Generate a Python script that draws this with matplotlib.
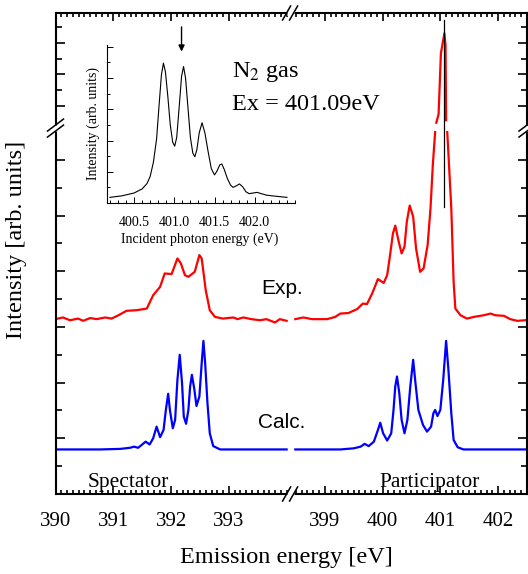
import numpy as np
import matplotlib.pyplot as plt
from matplotlib.ticker import FixedLocator, NullFormatter

plt.rcParams['font.family'] = ['Liberation Serif', 'DejaVu Serif']
plt.rcParams['mathtext.fontset'] = 'stix'

# Emission spectra, spectator region (left) and participator region (right)
spec_exp_x = [390.0, 390.13, 390.25, 390.39, 390.48, 390.60, 390.71, 390.86, 390.97, 391.09,
              391.23, 391.40, 391.58, 391.69, 391.81, 391.89, 392.01, 392.11, 392.17, 392.24,
              392.30, 392.41, 392.49, 392.53, 392.60, 392.67, 392.76, 392.90, 393.08, 393.15,
              393.25, 393.39, 393.54, 393.65, 393.80, 393.88, 394.00]
spec_exp_y = [3.14, 3.17, 3.12, 3.15, 3.11, 3.16, 3.14, 3.17, 3.15, 3.21,
              3.29, 3.30, 3.33, 3.57, 3.72, 3.96, 3.95, 4.23, 4.14, 3.93,
              3.90, 3.99, 4.29, 4.23, 3.66, 3.30, 3.18, 3.15, 3.17, 3.14,
              3.17, 3.14, 3.12, 3.14, 3.08, 3.14, 3.11]

part_exp_x = [398.49, 398.63, 398.78, 399.04, 399.18, 399.27, 399.41, 399.56, 399.66, 399.73,
              399.82, 399.92, 400.02, 400.08, 400.13, 400.18, 400.22, 400.28, 400.33, 400.38,
              400.42, 400.47, 400.53, 400.58, 400.65, 400.71, 400.78, 400.83, 400.87, 400.91,
              400.93, 400.97, 401.01, 401.04, 401.07, 401.09, 401.10, 401.12, 401.19, 401.23,
              401.26, 401.35, 401.46, 401.58, 401.75, 401.87, 401.95, 402.10, 402.21, 402.33,
              402.47]
part_exp_y = [3.14, 3.17, 3.14, 3.14, 3.18, 3.24, 3.25, 3.32, 3.42, 3.41,
              3.60, 3.86, 3.79, 3.93, 4.29, 4.68, 4.82, 4.53, 4.32, 4.44,
              4.89, 5.18, 4.98, 4.41, 3.99, 4.05, 4.47, 5.13, 5.91, 6.50,
              7.47, 7.74, 9.67, 9.98, 10.30, 9.93, 7.55, 6.50, 5.13, 3.81,
              3.33, 3.21, 3.15, 3.18, 3.21, 3.24, 3.21, 3.20, 3.14, 3.11,
              3.12]

spec_calc_x = [390.0, 390.77, 391.12, 391.29, 391.36, 391.43, 391.49, 391.56, 391.63, 391.69,
               391.75, 391.81, 391.87, 391.91, 391.95, 391.98, 392.03, 392.07, 392.11, 392.15,
               392.19, 392.22, 392.26, 392.30, 392.33, 392.36, 392.40, 392.44, 392.49, 392.53,
               392.56, 392.59, 392.63, 392.67, 392.73, 392.85, 394.00]
spec_calc_y = [0.80, 0.80, 0.81, 0.83, 0.85, 0.83, 0.88, 0.94, 0.89, 1.00,
               1.21, 1.02, 1.15, 1.51, 1.80, 1.51, 1.18, 1.33, 2.05, 2.50,
               1.99, 1.39, 1.26, 1.51, 1.93, 2.14, 1.90, 1.58, 1.75, 2.35,
               2.75, 2.35, 1.63, 1.09, 0.86, 0.80, 0.80]

part_calc_x = [398.49, 399.27, 399.50, 399.62, 399.69, 399.76, 399.85, 399.92, 399.96, 400.01,
               400.08, 400.15, 400.19, 400.22, 400.25, 400.29, 400.33, 400.38, 400.43, 400.48,
               400.53, 400.57, 400.62, 400.70, 400.77, 400.84, 400.88, 400.91, 400.95, 401.00,
               401.05, 401.10, 401.14, 401.19, 401.23, 401.30, 401.40, 402.50]
part_calc_y = [0.80, 0.80, 0.82, 0.85, 0.90, 0.86, 0.94, 1.15, 1.28, 1.09,
               0.96, 1.09, 1.51, 1.93, 2.11, 1.81, 1.33, 1.09, 1.33, 1.93,
               2.41, 1.99, 1.51, 1.24, 1.12, 1.21, 1.45, 1.51, 1.40, 1.51,
               2.05, 2.75, 2.23, 1.45, 0.97, 0.84, 0.80, 0.80]

# excitation energy marker
ex_energy = 401.06
ex_line_y = (5.16, 10.72)

# absorption spectrum for the inset
abs_x = [400.20, 400.35, 400.50, 400.60, 400.66, 400.70, 400.74, 400.78, 400.81, 400.84,
         400.865, 400.89, 400.92, 400.95, 400.98, 401.005, 401.03, 401.06, 401.09, 401.115,
         401.14, 401.17, 401.20, 401.23, 401.255, 401.28, 401.31, 401.345, 401.38, 401.42,
         401.46, 401.50, 401.53, 401.565, 401.59, 401.62, 401.66, 401.70, 401.73, 401.77,
         401.81, 401.85, 401.89, 401.93, 401.98, 402.03, 402.08, 402.15, 402.25, 402.40]
abs_y = [0.18, 0.23, 0.32, 0.45, 0.62, 0.85, 1.30, 2.05, 3.10, 4.10,
         4.48, 4.20, 3.40, 2.50, 1.95, 1.82, 2.10, 3.05, 4.05, 4.37,
         4.00, 3.05, 2.10, 1.60, 1.48, 1.70, 2.25, 2.57, 2.25, 1.65,
         1.10, 0.90, 1.02, 1.22, 1.25, 1.08, 0.78, 0.57, 0.50, 0.55,
         0.61, 0.52, 0.36, 0.30, 0.32, 0.34, 0.30, 0.25, 0.22, 0.18]
abs_marker = 401.09

x_major = [390, 391, 392, 393, 399, 400, 401, 402]

# broken axes: gap in energy and a compressed upper intensity range
X_LO, X_HI = 394.06, 398.40
Y_LO, Y_HI, Y_SQ = 6.571, 7.30, 0.567
Y_TOP = 10.945


def x_fwd(x):
    x = np.array(x, float)
    out = x.copy()
    out[x >= X_HI] -= X_HI - X_LO
    out[(x > X_LO) & (x < X_HI)] = X_LO
    return out


def x_inv(u):
    u = np.array(u, float)
    out = u.copy()
    out[u > X_LO] += X_HI - X_LO
    return out


def y_fwd(y):
    y = np.array(y, float)
    out = y.copy()
    hi = y >= Y_HI
    out[hi] = Y_LO + (y[hi] - Y_HI) * Y_SQ
    out[(y > Y_LO) & (y < Y_HI)] = Y_LO
    return out


def y_inv(v):
    v = np.array(v, float)
    out = v.copy()
    hi = v > Y_LO
    out[hi] = Y_HI + (v[hi] - Y_LO) / Y_SQ
    return out


def split_at_cut(x, y):
    xs, ys = [x[0]], [y[0]]
    for i in range(1, len(x)):
        if (y[i - 1] < Y_LO) != (y[i] < Y_LO):
            xs.append(np.nan)
            ys.append(np.nan)
        xs.append(x[i])
        ys.append(y[i])
    return xs, ys


W, H = 528, 574
fig = plt.figure(figsize=(W / 100, H / 100), dpi=100)


def fxy(px, py):
    return px / W, 1 - py / H


ax = fig.add_axes([55.5 / W, 1 - 494 / H, 471.5 / W, 481 / H])
ax.set_xscale('function', functions=(x_fwd, x_inv))
ax.set_yscale('function', functions=(y_fwd, y_inv))
ax.set_xlim(390, 402.5)
ax.set_ylim(0, Y_TOP)

for xs, ys, col in [(spec_exp_x, spec_exp_y, 'red'), (part_exp_x, part_exp_y, 'red'),
                    (spec_calc_x, spec_calc_y, 'blue'), (part_calc_x, part_calc_y, 'blue')]:
    sx, sy = split_at_cut(xs, ys)
    ax.plot(sx, sy, color=col, lw=1.6, solid_joinstyle='round')

ax.plot([ex_energy, ex_energy], ex_line_y, color='black', lw=0.9, zorder=4)

ax.set_xticks(x_major, [str(v) for v in x_major])
x_minor = np.concatenate([np.arange(390, 394.05, 0.1), np.arange(398.5, 402.55, 0.1)])
ax.xaxis.set_minor_locator(FixedLocator(np.round(x_minor, 1)))
ax.yaxis.set_major_locator(FixedLocator([0, 1, 2, 3, 4, 5, 6, 8, 9, 10]))
ax.yaxis.set_minor_locator(FixedLocator([0.5, 1.5, 2.5, 3.5, 4.5, 5.5, 8.5, 9.5, 10.5]))
ax.yaxis.set_major_formatter(NullFormatter())
ax.tick_params(which='both', direction='in', top=True, right=True, width=1.2)
ax.tick_params(axis='x', which='major', length=5.5, pad=13, labelsize=15)
ax.tick_params(axis='x', which='minor', length=2.8)
ax.tick_params(axis='y', which='major', length=6.5)
ax.tick_params(axis='y', which='minor', length=4)
for sp in ax.spines.values():
    sp.set_linewidth(1.5)

# break marks on the frame
aw, ah = 471.5, 481.0
xb = float((x_fwd([X_LO])[0] - 390) / (x_fwd([402.5])[0] - 390))
yb = float(Y_LO / y_fwd([Y_TOP])[0])
kw = dict(transform=ax.transAxes, clip_on=False, zorder=6)
for yy in (0, 1):
    ax.plot([xb - 3.5 / aw, xb + 3.5 / aw], [yy, yy], color='white', lw=3.5,
            solid_capstyle='butt', **kw)
    for off in (-3.5, 3.5):
        ax.plot([xb + (off - 4) / aw, xb + (off + 4) / aw], [yy - 7 / ah, yy + 7 / ah],
                color='black', lw=1.1, **kw)
for xx in (0, 1):
    ax.plot([xx, xx], [yb - 3 / ah, yb + 3 / ah], color='white', lw=3.5,
            solid_capstyle='butt', **kw)
    for off in (-3, 3):
        ax.plot([xx - 8 / aw, xx + 8 / aw], [yb + (off - 6) / ah, yb + (off + 6) / ah],
                color='black', lw=1.1, **kw)

fig.text(*fxy(286, 558), 'Emission energy [eV]', fontsize=17.5, ha='center', va='center')
fig.text(*fxy(17, 240), 'Intensity [arb. units]', fontsize=17.5, ha='center', va='center',
         rotation=90)
fig.text(*fxy(128.5, 482), 'Spectator', fontsize=15.5, ha='center', va='center')
fig.text(*fxy(429.5, 482), 'Participator', fontsize=15.5, ha='center', va='center')
fig.text(*fxy(261, 288), 'Exp.', fontsize=15, ha='left', va='center', family=['Liberation Sans'])
fig.text(*fxy(258, 423), 'Calc.', fontsize=15, ha='left', va='center', family=['Liberation Sans'])
fig.text(*fxy(232, 77), r'N$_2$ gas', fontsize=17.5, ha='left', va='baseline')
fig.text(*fxy(232, 110), 'Ex = 401.09eV', fontsize=17.5, ha='left', va='baseline')

# inset: absorption spectrum
axi = fig.add_axes([106.7 / W, 1 - 203 / H, 188.3 / W, 158 / H])
axi.plot(abs_x, abs_y, color='black', lw=0.8)
axi.set_xlim(400.16, 402.5)
axi.set_ylim(0, 5.06)
axi.set_xticks([400.5, 401.0, 401.5, 402.0], ['400.5', '401.0', '401.5', '402.0'])
axi.xaxis.set_minor_locator(FixedLocator(np.round(np.arange(400.2, 402.55, 0.1), 1)))
axi.yaxis.set_major_locator(FixedLocator([0, 1, 2, 3, 4, 5]))
axi.yaxis.set_minor_locator(FixedLocator([0.5, 1.5, 2.5, 3.5, 4.5]))
axi.yaxis.set_major_formatter(NullFormatter())
axi.spines[['top', 'right']].set_visible(False)
for sp in axi.spines.values():
    sp.set_linewidth(0.8)
axi.tick_params(which='both', direction='in', width=0.7)
axi.tick_params(which='major', length=4.5, labelsize=10, pad=9.5)
axi.tick_params(which='minor', length=2.5)
axi.patch.set_alpha(0)
axi.annotate('', xy=(abs_marker, 4.85), xytext=(abs_marker, 5.64), annotation_clip=False,
             arrowprops=dict(arrowstyle='-|>', color='black', lw=1.0, mutation_scale=9,
                             shrinkA=0, shrinkB=0))
fig.text(*fxy(199.6, 239), 'Incident photon energy (eV)', fontsize=10, ha='center', va='center')
fig.text(*fxy(93, 124), 'Intensity (arb. units)', fontsize=10, ha='center', va='center',
         rotation=90)

fig.savefig('out.png', dpi=100)
